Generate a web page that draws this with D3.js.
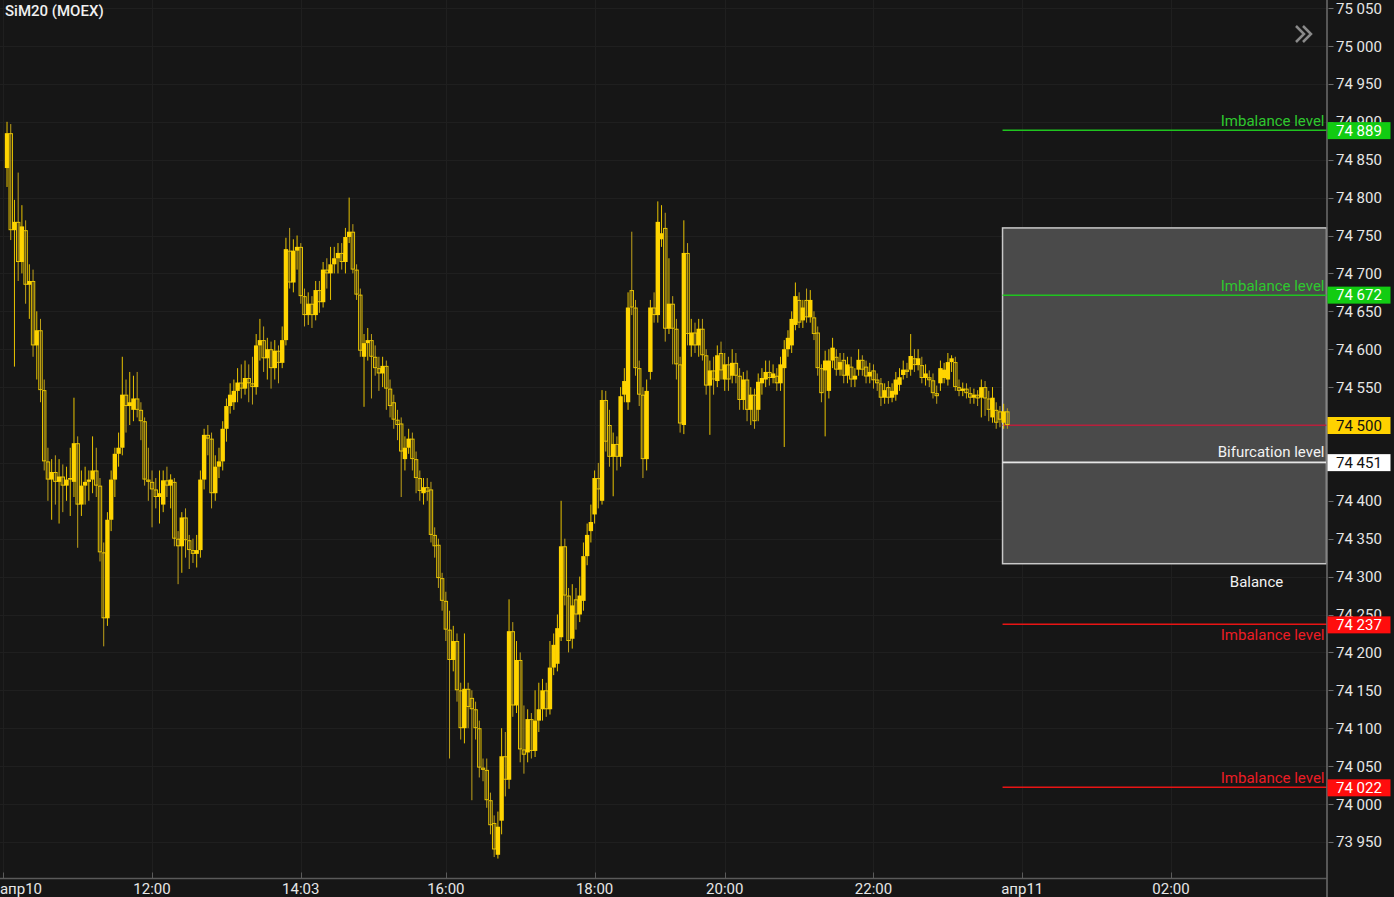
<!DOCTYPE html>
<html><head><meta charset="utf-8">
<script src="https://cdn.jsdelivr.net/npm/d3@7"></script>
<style>
html,body{margin:0;padding:0;background:#161616;overflow:hidden}
svg{display:block}
text{font-family:Roboto,"Noto Sans",sans-serif}
</style>
</head><body>
<svg id="chart" width="1394" height="897"></svg>
<script>
const title = "SiM20 (MOEX)";

const opens = [
74839,74885,74757,74768,74715,74757,74685,74690,74605,74625,
74546,74452,74428,74438,74425,74432,74420,74428,74425,74476,
74395,74420,74425,74428,74440,74420,74332,74245,74375,74428,
74462,74470,74540,74525,74520,74535,74520,74505,74428,74425,
74415,74405,74395,74427,74420,74425,74350,74340,74378,74348,
74335,74330,74335,74428,74487,74482,74410,74445,74452,74495,
74525,74530,74545,74556,74548,74562,74555,74550,74605,74612,
74588,74600,74575,74598,74582,74612,74730,74688,74730,74735,
74670,74645,74660,74645,74678,74662,74705,74700,74712,74720,
74727,74715,74748,74755,74705,74672,74590,74608,74612,74590,
74575,74568,74578,74548,74530,74507,74502,74455,74470,74482,
74455,74430,74410,74418,74415,74355,74342,74298,74268,74230,
74190,74215,74150,74100,74152,74140,74125,74100,74048,74045,
74005,73975,73933,73978,74063,74032,74228,74130,74190,74072,
74068,74112,74070,74110,74125,74150,74125,74180,74185,74220,
74340,74275,74218,74270,74250,74268,74327,74360,74382,74430,
74400,74533,74500,74458,74475,74458,74540,74530,74678,74655,
74575,74540,74455,74570,74655,74645,74745,74760,74627,74660,
74627,74580,74500,74727,74605,74622,74605,74627,74592,74552,
74572,74558,74595,74560,74580,74565,74582,74565,74533,74560,
74520,74540,74520,74555,74560,74570,74562,74565,74555,74575,
74600,74605,74632,74665,74638,74665,74642,74642,74622,74575,
74572,74545,74585,74590,74573,74586,74565,74577,74560,74573,
74586,74577,74564,74572,74560,74555,74536,74550,74536,74540,
74553,74566,74573,74573,74588,74579,74579,74562,74563,74559,
74542,74555,74562,74560,74583,74583,74550,74545,74548,74542,
74536,74540,74536,74550,74535,74510,74520,74518,74503,74518];

const highs = [
74900,74897,74797,74833,74790,74770,74712,74705,74650,74640,
74560,74470,74455,74460,74455,74448,74445,74470,74536,74485,
74440,74445,74440,74485,74470,74430,74345,74385,74440,74470,
74490,74590,74560,74570,74565,74570,74530,74510,74470,74440,
74430,74440,74440,74445,74435,74430,74360,74385,74390,74355,
74350,74355,74440,74495,74500,74490,74460,74470,74505,74535,
74555,74560,74575,74580,74585,74580,74590,74620,74640,74630,
74615,74610,74612,74605,74630,74747,74760,74745,74750,74740,
74680,74675,74670,74690,74690,74715,74720,74735,74735,74740,
74740,74760,74800,74765,74712,74680,74620,74628,74620,74605,
74590,74590,74585,74560,74540,74520,74510,74485,74495,74490,
74465,74440,74430,74430,74425,74365,74350,74305,74280,74255,
74235,74225,74160,74225,74160,74150,74135,74110,74060,74060,
74015,73985,73990,74100,74095,74270,74240,74215,74200,74130,
74125,74120,74150,74160,74165,74160,74215,74225,74250,74400,
74350,74285,74290,74285,74300,74345,74370,74395,74440,74450,
74546,74545,74520,74490,74485,74550,74575,74675,74755,74665,
74585,74550,74560,74665,74675,74795,74790,74780,74720,74670,
74640,74590,74770,74740,74640,74635,74640,74640,74600,74585,
74590,74605,74610,74595,74590,74600,74595,74575,74570,74572,
74550,74548,74568,74575,74585,74585,74580,74575,74590,74612,
74625,74650,74688,74675,74665,74680,74678,74650,74630,74580,
74598,74600,74615,74600,74595,74595,74590,74590,74575,74600,
74592,74585,74582,74580,74568,74562,74555,74558,74555,74570,
74575,74585,74582,74620,74600,74600,74590,74580,74572,74568,
74552,74585,74582,74595,74592,74590,74560,74556,74555,74550,
74548,74546,74560,74558,74545,74550,74530,74525,74528,74522];

const lows = [
74814,74744,74577,74690,74700,74660,74640,74590,74560,74530,
74440,74400,74375,74395,74370,74385,74400,74380,74405,74338,
74380,74395,74400,74410,74405,74320,74208,74235,74360,74405,
74445,74460,74490,74500,74505,74510,74480,74420,74400,74365,
74390,74370,74385,74405,74390,74340,74290,74305,74325,74310,
74318,74312,74325,74415,74460,74390,74400,74430,74440,74478,
74515,74520,74530,74535,74540,74530,74527,74540,74585,74570,
74560,74548,74560,74555,74575,74605,74680,74675,74705,74660,
74630,74632,74628,74638,74648,74655,74680,74665,74700,74700,
74705,74700,74740,74700,74665,74590,74524,74585,74535,74565,
74545,74550,74520,74510,74495,74480,74405,74440,74462,74440,
74410,74400,74395,74400,74345,74325,74285,74255,74215,74060,
74175,74135,74085,74080,74100,74005,74085,74035,74030,73995,
73960,73930,73928,73960,74010,74020,74115,74120,74055,74040,
74055,74060,74062,74095,74110,74115,74118,74170,74175,74215,
74262,74200,74205,74230,74240,74255,74315,74345,74370,74390,
74395,74465,74445,74406,74440,74445,74530,74520,74645,74565,
74525,74430,74440,74560,74635,74635,74735,74610,74620,74580,
74560,74490,74488,74605,74590,74595,74590,74585,74540,74487,
74540,74550,74560,74545,74545,74555,74555,74520,74520,74505,
74500,74495,74505,74540,74550,74552,74555,74545,74545,74471,
74590,74595,74625,74628,74628,74635,74635,74612,74565,74530,
74485,74535,74575,74565,74565,74555,74555,74550,74550,74565,
74565,74555,74555,74548,74545,74525,74528,74528,74530,74532,
74545,74560,74562,74565,74570,74572,74555,74552,74550,74535,
74528,74545,74555,74552,74570,74545,74538,74538,74535,74528,
74528,74525,74510,74512,74505,74503,74495,74497,74495,74495];

const closes = [
74885,74757,74768,74715,74762,74685,74690,74605,74625,74546,
74452,74428,74438,74425,74432,74420,74428,74430,74476,74395,
74420,74425,74428,74440,74420,74332,74245,74375,74428,74462,
74470,74540,74525,74530,74535,74520,74505,74428,74425,74415,
74405,74410,74427,74420,74428,74350,74340,74378,74348,74335,
74330,74335,74428,74487,74482,74410,74445,74452,74495,74525,
74540,74545,74556,74548,74562,74555,74550,74605,74612,74588,
74600,74575,74598,74582,74612,74732,74688,74730,74735,74670,
74645,74660,74645,74678,74662,74705,74700,74712,74720,74727,
74715,74748,74755,74705,74672,74598,74608,74612,74590,74575,
74568,74578,74548,74525,74507,74500,74465,74470,74482,74455,
74430,74413,74418,74412,74355,74340,74298,74268,74230,74190,
74215,74150,74100,74152,74128,74125,74100,74048,74045,74005,
73972,73940,73970,74063,74032,74228,74130,74190,74072,74065,
74112,74070,74110,74125,74150,74125,74180,74210,74232,74340,
74275,74215,74262,74250,74275,74327,74355,74372,74430,74415,
74533,74478,74458,74475,74458,74538,74558,74655,74655,74575,
74540,74455,74545,74655,74645,74768,74753,74627,74660,74627,
74580,74502,74727,74620,74622,74605,74627,74592,74552,74572,
74560,74592,74572,74580,74560,74582,74565,74533,74560,74520,
74540,74505,74557,74562,74570,74562,74568,74555,74580,74600,
74615,74640,74670,74635,74655,74642,74665,74620,74575,74542,
74585,74585,74602,74573,74583,74565,74580,74560,74565,74586,
74573,74564,74570,74559,74555,74536,74546,74536,74545,74560,
74563,74573,74570,74591,74579,74588,74562,74568,74559,74542,
74538,74575,74573,74583,74588,74550,74545,74548,74542,74536,
74540,74535,74550,74535,74520,74536,74503,74507,74518,74500];

const timeTickIndex  = [-1, 39, 79, 118, 158, 193, 233, 273, 313];
const timeTickLabels = ["апр10","12:00","14:03","16:00","18:00","20:00","22:00","апр11","02:00"];

const priceTicks = [73950,74000,74050,74100,74150,74200,74250,74300,74350,74400,
                    74450,74500,74550,74600,74650,74700,74750,74800,74850,74900,74950,75000,75050];

const imbalanceValues = [74889, 74672, 74237, 74022];
const imbalanceSides  = ["buy", "buy", "sell", "sell"];
const imbalanceText   = "Imbalance level";
const lastPrice = 74500;
const bifurcationValue = 74451;
const bifurcationText = "Bifurcation level";
const balanceRange = [74317, 74760];
const balanceText = "Balance";
const zoneStartIndex = 267.7;

// ---------- layout ----------
const W = 1394, H = 897;
const plotRight = 1326.5, plotBottom = 878.5;
const svg = d3.select("#chart");
const bg = "#161616";

const x = d3.scaleLinear().domain([-1, 313]).range([3.3, 1171]);
const y = d3.scaleLinear().domain([74000, 74500]).range([804, 425]);

const fmt = v => { const s = String(Math.round(v)); return s.slice(0, -3) + " " + s.slice(-3); };

svg.append("rect").attr("width", W).attr("height", H).attr("fill", bg);

const plot = svg.append("g");
plot.append("clipPath").attr("id", "pc").append("rect")
  .attr("x", 0).attr("y", 0).attr("width", plotRight).attr("height", plotBottom);

// grid
const grid = plot.append("g").attr("stroke", "#1f1f1f").attr("stroke-width", 1).attr("shape-rendering", "crispEdges");
grid.selectAll("line.h").data(priceTicks).join("line")
  .attr("x1", 0).attr("x2", plotRight)
  .attr("y1", d => Math.round(y(d)) + 0.5).attr("y2", d => Math.round(y(d)) + 0.5);
grid.selectAll("line.v").data(timeTickIndex).join("line")
  .attr("y1", 0).attr("y2", plotBottom)
  .attr("x1", d => Math.round(x(d)) + 0.5).attr("x2", d => Math.round(x(d)) + 0.5);

// balance zone
const zx0 = x(zoneStartIndex);
plot.append("rect")
  .attr("x", zx0).attr("y", y(balanceRange[1]))
  .attr("width", plotRight - zx0).attr("height", y(balanceRange[0]) - y(balanceRange[1]))
  .attr("fill", "#4a4a4a").attr("stroke", "#c8c8c8").attr("stroke-width", 1.5);

plot.append("text").attr("x", plotRight - 70).attr("y", y(balanceRange[0]) + 23)
  .attr("text-anchor", "middle").attr("fill", "#f2f2f2").attr("font-size", 15).text(balanceText);

// level lines
const sideColor = { buy: "#1fc41f", sell: "#e81414" };
const levelG = plot.append("g");
imbalanceValues.forEach((v, k) => {
  const yy = Math.round(y(v));
  levelG.append("rect").attr("x", zx0).attr("width", plotRight - zx0).attr("y", yy - 0.5).attr("height", 1.5)
    .attr("fill", sideColor[imbalanceSides[k]]);
});
const yl = Math.round(y(lastPrice));
levelG.append("rect").attr("x", zx0).attr("width", plotRight - zx0).attr("y", yl - 0.5).attr("height", 1.5)
  .attr("fill", "#b8203c");
const yb = Math.round(y(bifurcationValue));
levelG.append("rect").attr("x", zx0).attr("width", plotRight - zx0).attr("y", yb - 0.5).attr("height", 1.8)
  .attr("fill", "#e6e6e6");

// candles
const data = closes.map((c, i) => ({ i, o: opens[i], h: highs[i], l: lows[i], c }));
const cg = plot.append("g").attr("clip-path", "url(#pc)");
const bodyW = 4.4;
cg.selectAll("line.w").data(data).join("line")
  .attr("x1", d => x(d.i)).attr("x2", d => x(d.i))
  .attr("y1", d => y(d.h)).attr("y2", d => y(d.l))
  .attr("stroke", d => d.c >= d.o ? "#e6c200" : "#bfa11a").attr("stroke-width", 1);
cg.selectAll("rect.b").data(data).join("rect")
  .attr("x", d => x(d.i) - bodyW / 2 + (d.c >= d.o ? 0 : 0.5))
  .attr("y", d => y(Math.max(d.o, d.c)) + (d.c >= d.o ? 0 : 0.5))
  .attr("width", d => d.c >= d.o ? bodyW : bodyW - 1)
  .attr("height", d => Math.max(1, Math.abs(y(d.o) - y(d.c)) - (d.c >= d.o ? 0 : 1)))
  .attr("fill", d => d.c >= d.o ? "#ffd400" : "none")
  .attr("stroke", d => d.c >= d.o ? "none" : "#e8c400")
  .attr("stroke-width", 1);

// level labels
imbalanceValues.forEach((v, k) => {
  const yy = y(v);
  const below = (k === 2);
  plot.append("text").attr("x", plotRight - 2).attr("y", below ? yy + 16 : yy - 4)
    .attr("text-anchor", "end").attr("font-size", 15)
    .attr("fill", imbalanceSides[k] === "buy" ? "#2ec82e" : "#ec1c24").text(imbalanceText);
});
plot.append("text").attr("x", plotRight - 2).attr("y", y(bifurcationValue) - 5)
  .attr("text-anchor", "end").attr("font-size", 15).attr("fill", "#f2f2f2").text(bifurcationText);

// x axis
const xa = svg.append("g");
xa.append("line").attr("x1", 0).attr("x2", plotRight).attr("y1", plotBottom).attr("y2", plotBottom)
  .attr("stroke", "#5a5a5a").attr("stroke-width", 1.5);
xa.selectAll("line.t").data(timeTickIndex).join("line")
  .attr("x1", d => Math.round(x(d)) + 0.5).attr("x2", d => Math.round(x(d)) + 0.5)
  .attr("y1", plotBottom - 6).attr("y2", plotBottom).attr("stroke", "#5a5a5a");
xa.selectAll("text").data(timeTickIndex).join("text")
  .attr("x", d => Math.max(x(d), 21)).attr("y", 894)
  .attr("text-anchor", "middle").attr("font-size", 15).attr("fill", "#e6e6e6")
  .text((d, k) => timeTickLabels[k]);

// y axis
const ya = svg.append("g");
ya.append("line").attr("x1", plotRight + 0.5).attr("x2", plotRight + 0.5).attr("y1", 0).attr("y2", H)
  .attr("stroke", "#6e6e6e").attr("stroke-width", 1.5);
ya.selectAll("line.t").data(priceTicks).join("line")
  .attr("x1", plotRight + 2).attr("x2", plotRight + 7)
  .attr("y1", d => Math.round(y(d)) + 0.5).attr("y2", d => Math.round(y(d)) + 0.5)
  .attr("stroke", "#6e6e6e");
ya.selectAll("text").data(priceTicks).join("text")
  .attr("x", 1336).attr("y", d => y(d) + 5.5)
  .attr("font-size", 15).attr("fill", "#e6e6e6").text(d => fmt(d));

// value tags
const tags = [
  ...imbalanceValues.map((v, k) => ({ v, bg: imbalanceSides[k] === "buy" ? "#12cc12" : "#ff0d0d", fg: "#ffffff" })),
  { v: lastPrice, bg: "#ffd200", fg: "#111111" },
  { v: bifurcationValue, bg: "#ffffff", fg: "#111111" }
];
const tg = svg.append("g");
tags.forEach(t => {
  const yy = y(t.v);
  tg.append("rect").attr("x", plotRight + 1).attr("y", yy - 8).attr("width", 63).attr("height", 17).attr("fill", t.bg);
  tg.append("text").attr("x", 1336).attr("y", yy + 5.5).attr("font-size", 15).attr("fill", t.fg).text(fmt(t.v));
});

// title & chevron
svg.append("text").attr("x", 5).attr("y", 16).attr("font-size", 15).attr("font-weight", 500)
  .attr("fill", "#f0f0f0").text(title);
svg.append("path").attr("d", "M1296,26 L1304,34 L1296,42 M1303,26 L1311,34 L1303,42")
  .attr("fill", "none").attr("stroke", "#8a8a8a").attr("stroke-width", 2.5);
</script>
</body></html>
